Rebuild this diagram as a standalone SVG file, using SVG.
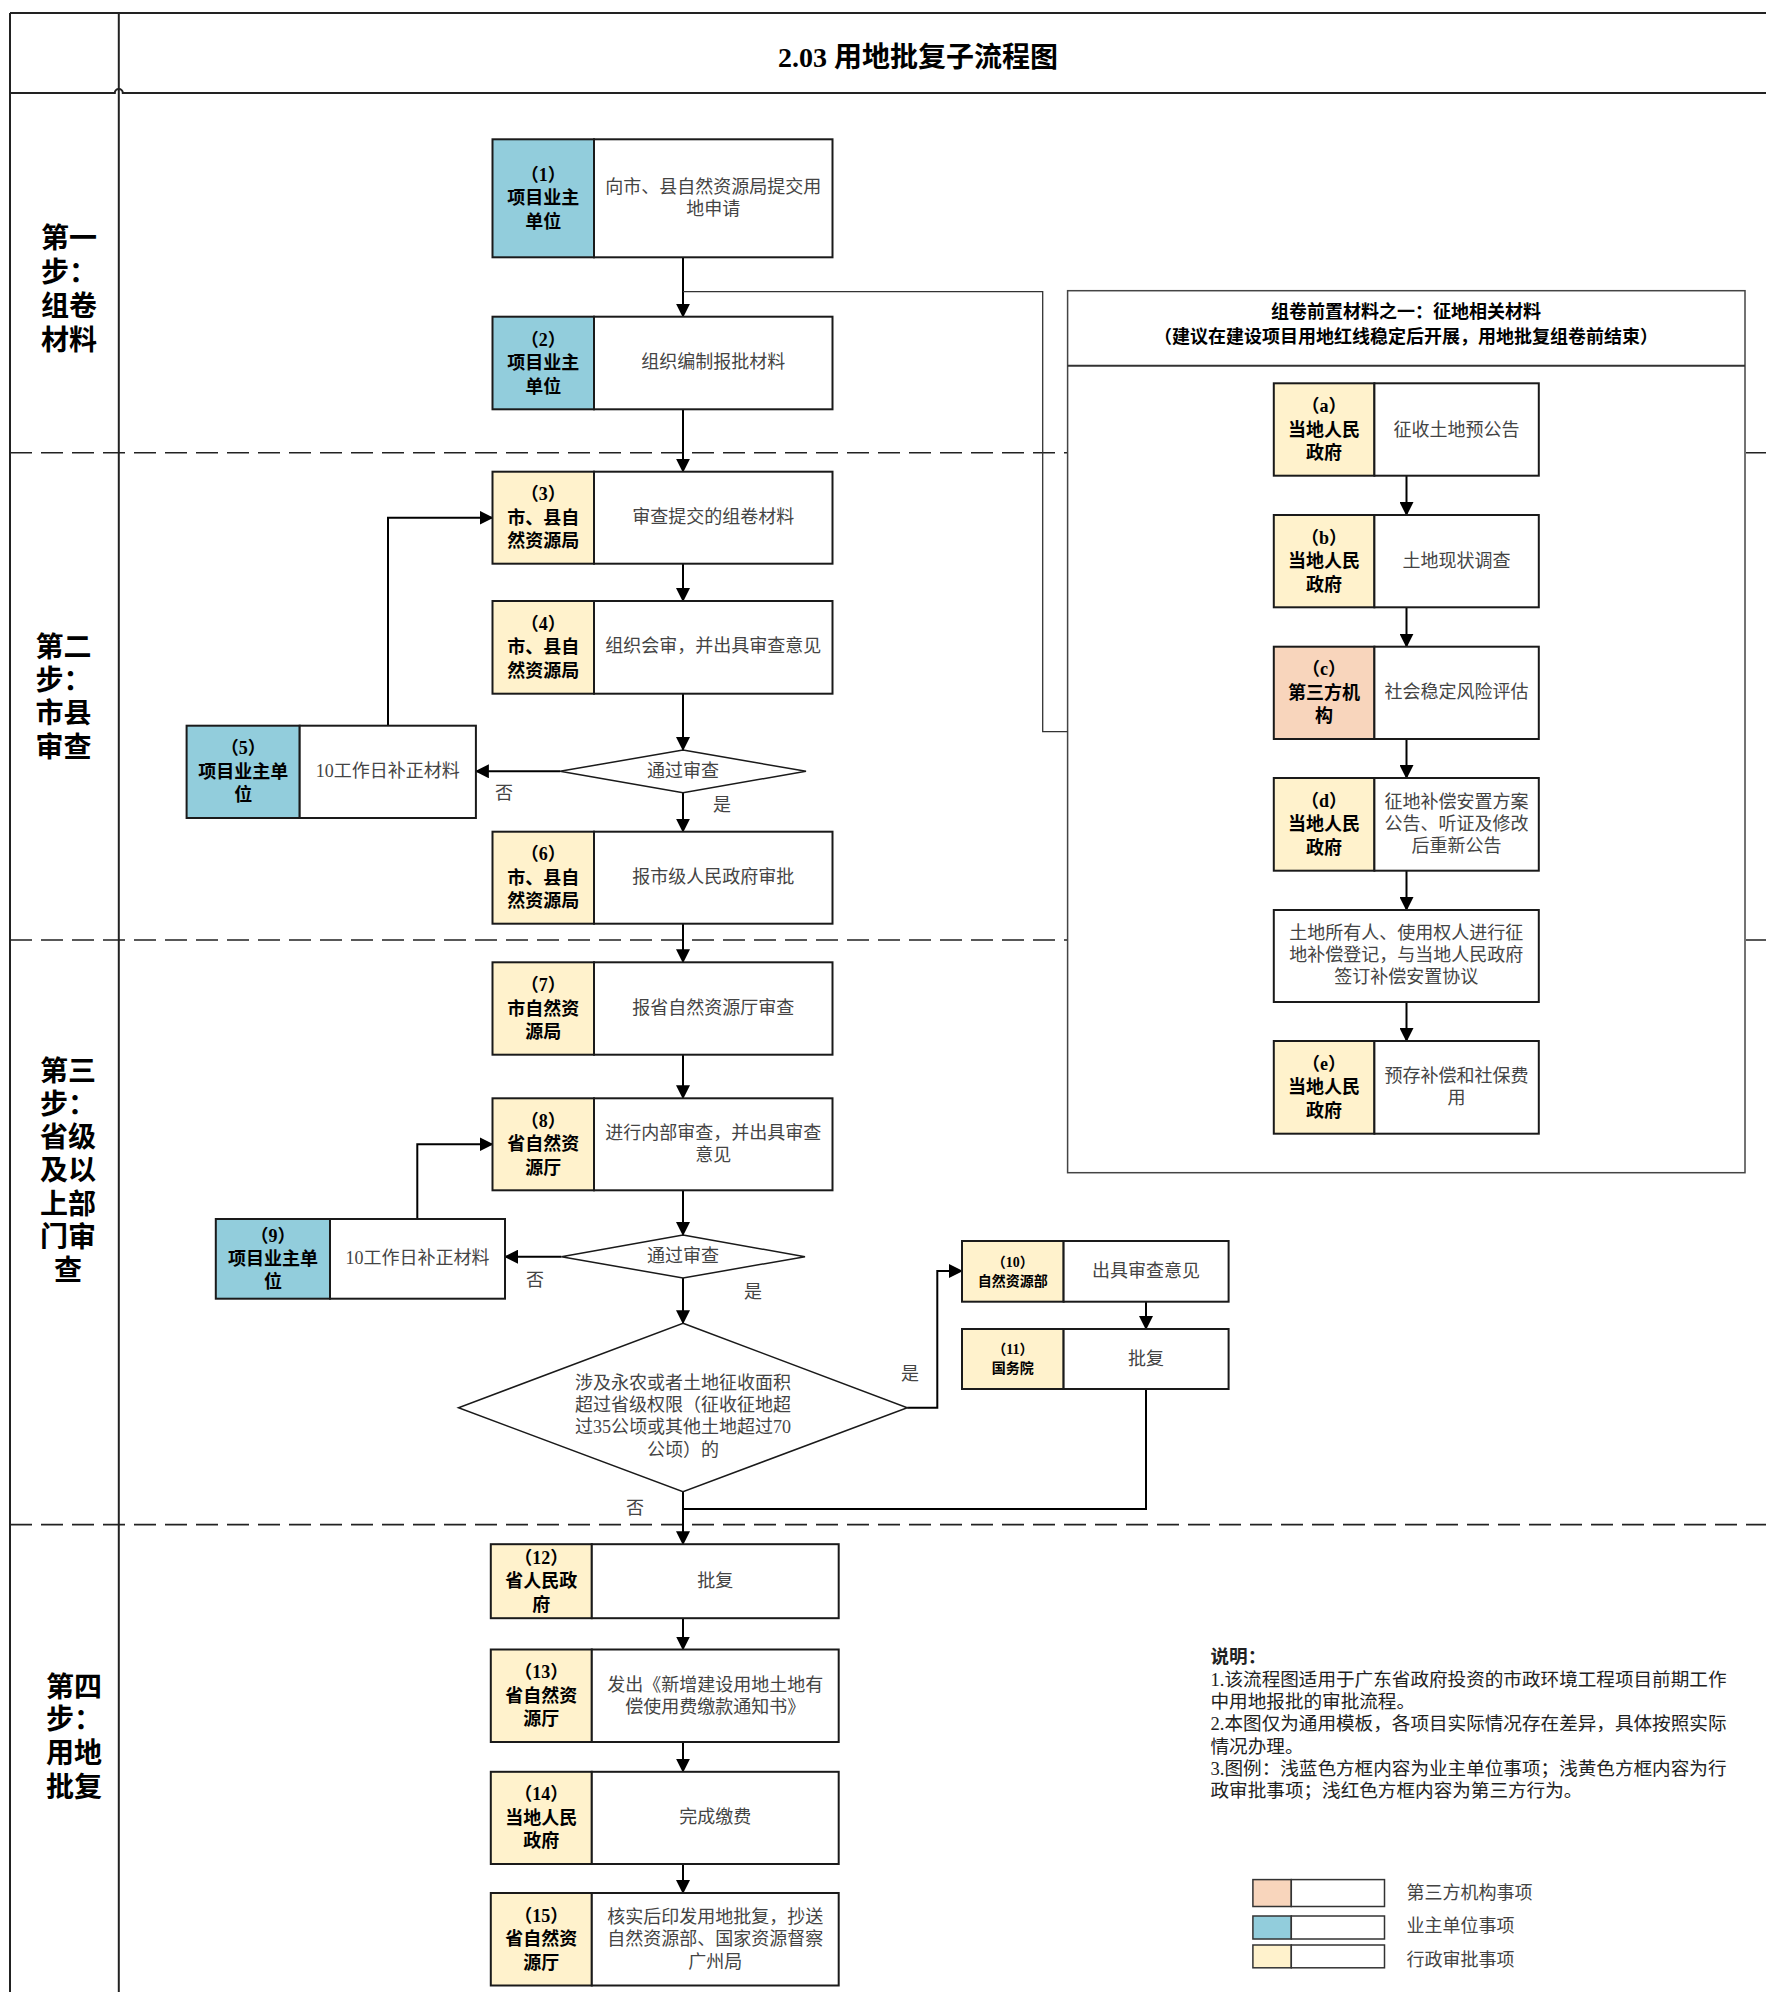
<svg xmlns="http://www.w3.org/2000/svg" width="1766" height="1992" viewBox="0 0 1766 1992">
<style>
text{font-family:"Liberation Serif","Noto Sans CJK SC",sans-serif;dominant-baseline:central;text-anchor:middle}
.frame{stroke:#222;stroke-width:2;fill:none}
.dash{stroke:#222;stroke-width:1.6;fill:none;stroke-dasharray:22 9}
.cell{stroke:#1a1a1a;stroke-width:2}
.blue{fill:#92CDDC}.yel{fill:#FFF2CC}.org{fill:#F8D5BC}.wh{fill:#fff}
.lab{font-size:18px;font-weight:bold;fill:#000}
.labs{font-size:14px;font-weight:bold;fill:#000}
.txt{font-size:18px;fill:#444}
.yn{font-size:18px;fill:#444}
.lane{font-size:28px;font-weight:600;fill:#000}
.conn{stroke:#000;stroke-width:2;fill:none}
.thin{stroke:#333;stroke-width:1.3;fill:none}
.arr{stroke:#000;stroke-width:2;fill:none;marker-end:url(#ah)}
.dia{fill:#fff;stroke:#1a1a1a;stroke-width:1.5}
.note{font-size:18.6px;fill:#222;text-anchor:start}
</style>
<defs>
<marker id="ah" markerUnits="userSpaceOnUse" markerWidth="14" markerHeight="14" refX="13" refY="7" orient="auto">
<path d="M0,0 L14,7 L0,14 z" fill="#000"/>
</marker>
</defs>
<rect width="1766" height="1992" fill="#fff"/>

<g id="frame">
<line class="frame" x1="10" y1="13" x2="1766" y2="13"/>
<line class="frame" x1="10" y1="13" x2="10" y2="1992"/>
<line class="frame" x1="118.8" y1="13" x2="118.8" y2="1992"/>
<path class="frame" d="M10,93 H114.8 A4,4 0 0 1 122.8,93 H1766"/>
<line class="dash" x1="10" y1="452.7" x2="1766" y2="452.7"/>
<line class="dash" x1="10" y1="940" x2="1766" y2="940"/>
<line class="dash" x1="10" y1="1524.6" x2="1766" y2="1524.6"/>
<text x="918" y="57" style="font-size:28px;font-weight:bold">2.03 用地批复子流程图</text>
</g>

<g id="lanes">
<g id="lane1">
<text class="lane" x="69" y="238">第一</text><text class="lane" x="69" y="272">步：</text><text class="lane" x="69" y="306">组卷</text><text class="lane" x="69" y="340">材料</text>
</g>
<g id="lane2">
<text class="lane" x="63.5" y="647">第二</text><text class="lane" x="63.5" y="680">步：</text><text class="lane" x="63.5" y="713">市县</text><text class="lane" x="63.5" y="747">审查</text>
</g>
<g id="lane3">
<text class="lane" x="68" y="1071">第三</text><text class="lane" x="68" y="1104">步：</text><text class="lane" x="68" y="1137">省级</text><text class="lane" x="68" y="1170">及以</text><text class="lane" x="68" y="1204">上部</text><text class="lane" x="68" y="1237">门审</text><text class="lane" x="68" y="1270">查</text>
</g>
<g id="lane4">
<text class="lane" x="74" y="1687">第四</text><text class="lane" x="74" y="1719">步：</text><text class="lane" x="74" y="1753">用地</text><text class="lane" x="74" y="1787">批复</text>
</g>
</g>

<g id="panel">
<rect x="1067.6" y="290.7" width="677.4" height="882" fill="#fff" stroke="#444" stroke-width="1.5"/>
<line x1="1067.6" y1="365.7" x2="1745" y2="365.7" stroke="#333" stroke-width="2"/>
<text class="lab" x="1406" y="311.7">组卷前置材料之一：征地相关材料</text>
<text class="lab" x="1406" y="337.3">（建议在建设项目用地红线稳定后开展，用地批复组卷前结束）</text>
</g>

<g id="connectors">
<line class="arr" x1="683" y1="257.3" x2="683" y2="316.7"/>
<polyline class="thin" points="683,291.7 1042.7,291.7 1042.7,731.7 1067.6,731.7"/>
<line class="arr" x1="683" y1="409.3" x2="683" y2="471.7"/>
<line class="arr" x1="683" y1="563.7" x2="683" y2="601"/>
<line class="arr" x1="683" y1="693.7" x2="683" y2="750"/>
<line class="arr" x1="560" y1="771.3" x2="475.9" y2="771.3"/>
<line class="arr" x1="683" y1="792.7" x2="683" y2="831.7"/>
<polyline class="arr" points="388,725.7 388,517.7 492.5,517.7"/>
<line class="arr" x1="683" y1="923.7" x2="683" y2="962.3"/>
<line class="arr" x1="683" y1="1054.7" x2="683" y2="1098.3"/>
<line class="arr" x1="683" y1="1190.3" x2="683" y2="1235"/>
<line class="arr" x1="561.4" y1="1256.7" x2="505" y2="1256.7"/>
<polyline class="arr" points="417.3,1219 417.3,1144.3 492.5,1144.3"/>
<line class="arr" x1="683" y1="1278" x2="683" y2="1323.3"/>
<polyline class="arr" points="907.3,1407.7 937.3,1407.7 937.3,1271 962,1271"/>
<line class="arr" x1="1146" y1="1301.7" x2="1146" y2="1329"/>
<polyline class="conn" points="1146,1389 1146,1509 683,1509"/>
<line class="arr" x1="683" y1="1491.7" x2="683" y2="1544.2"/>
<line class="arr" x1="683" y1="1618.2" x2="683" y2="1649.5"/>
<line class="arr" x1="683" y1="1742" x2="683" y2="1771.8"/>
<line class="arr" x1="683" y1="1864" x2="683" y2="1893"/>
<line class="arr" x1="1406.5" y1="475.7" x2="1406.5" y2="515"/>
<line class="arr" x1="1406.5" y1="607.3" x2="1406.5" y2="646.7"/>
<line class="arr" x1="1406.5" y1="739" x2="1406.5" y2="778"/>
<line class="arr" x1="1406.5" y1="870.7" x2="1406.5" y2="910"/>
<line class="arr" x1="1406.5" y1="1002" x2="1406.5" y2="1041"/>
<text class="yn" x="504" y="793">否</text>
<text class="yn" x="722" y="805">是</text>
<text class="yn" x="535" y="1280">否</text>
<text class="yn" x="753" y="1292">是</text>
<text class="yn" x="910" y="1374">是</text>
<text class="yn" x="635" y="1508">否</text>
</g>

<g id="n1">
<rect class="cell blue" x="492.5" y="139.3" width="101.5" height="118"/>
<rect class="cell wh" x="594" y="139.3" width="238.5" height="118"/>
<text class="lab" x="543.2" y="174.8">（1）</text><text class="lab" x="543.2" y="198.3">项目业主</text><text class="lab" x="543.2" y="221.8">单位</text>
<text class="txt" x="713.2" y="186.8">向市、县自然资源局提交用</text><text class="txt" x="713.2" y="209.4">地申请</text>
</g>
<g id="n2">
<rect class="cell blue" x="492.5" y="316.7" width="101.5" height="92.6"/>
<rect class="cell wh" x="594" y="316.7" width="238.5" height="92.6"/>
<text class="lab" x="543.2" y="339.5">（2）</text><text class="lab" x="543.2" y="363">项目业主</text><text class="lab" x="543.2" y="386.5">单位</text>
<text class="txt" x="713.2" y="362">组织编制报批材料</text>
</g>
<g id="n3">
<rect class="cell yel" x="492.5" y="471.7" width="101.5" height="92"/>
<rect class="cell wh" x="594" y="471.7" width="238.5" height="92"/>
<text class="lab" x="543.2" y="494.2">（3）</text><text class="lab" x="543.2" y="517.7">市、县自</text><text class="lab" x="543.2" y="541.2">然资源局</text>
<text class="txt" x="713.2" y="516.5">审查提交的组卷材料</text>
</g>
<g id="n4">
<rect class="cell yel" x="492.5" y="601" width="101.5" height="92.7"/>
<rect class="cell wh" x="594" y="601" width="238.5" height="92.7"/>
<text class="lab" x="543.2" y="623.8">（4）</text><text class="lab" x="543.2" y="647.3">市、县自</text><text class="lab" x="543.2" y="670.8">然资源局</text>
<text class="txt" x="713.2" y="646.3">组织会审，并出具审查意见</text>
</g>
<g id="d1">
<polygon class="dia" points="683,750 806,771.3 683,792.7 560,771.3"/>
<text class="txt" x="683" y="770.5">通过审查</text>
</g>
<g id="n5">
<rect class="cell blue" x="186.6" y="725.7" width="113.1" height="92.3"/>
<rect class="cell wh" x="299.7" y="725.7" width="176.2" height="92.3"/>
<text class="lab" x="243.2" y="748">（5）</text><text class="lab" x="243.2" y="771.7">项目业主单</text><text class="lab" x="243.2" y="795.2">位</text>
<text class="txt" x="387.8" y="771">10工作日补正材料</text>
</g>
<g id="n6">
<rect class="cell yel" x="492.5" y="831.7" width="101.5" height="92"/>
<rect class="cell wh" x="594" y="831.7" width="238.5" height="92"/>
<text class="lab" x="543.2" y="854.2">（6）</text><text class="lab" x="543.2" y="877.7">市、县自</text><text class="lab" x="543.2" y="901.2">然资源局</text>
<text class="txt" x="713.2" y="876.5">报市级人民政府审批</text>
</g>
<g id="n7">
<rect class="cell yel" x="492.5" y="962.3" width="101.5" height="92.4"/>
<rect class="cell wh" x="594" y="962.3" width="238.5" height="92.4"/>
<text class="lab" x="543.2" y="985">（7）</text><text class="lab" x="543.2" y="1008.5">市自然资</text><text class="lab" x="543.2" y="1032">源局</text>
<text class="txt" x="713.2" y="1007.5">报省自然资源厅审查</text>
</g>
<g id="n8">
<rect class="cell yel" x="492.5" y="1098.3" width="101.5" height="92"/>
<rect class="cell wh" x="594" y="1098.3" width="238.5" height="92"/>
<text class="lab" x="543.2" y="1120.8">（8）</text><text class="lab" x="543.2" y="1144.3">省自然资</text><text class="lab" x="543.2" y="1167.8">源厅</text>
<text class="txt" x="713.2" y="1132.5">进行内部审查，并出具审查</text><text class="txt" x="713.2" y="1154.5">意见</text>
</g>
<g id="d2">
<polygon class="dia" points="683,1235 805,1256.7 683,1278 561.4,1256.7"/>
<text class="txt" x="683" y="1256">通过审查</text>
</g>
<g id="n9">
<rect class="cell blue" x="215.8" y="1219" width="114.2" height="79.7"/>
<rect class="cell wh" x="330" y="1219" width="175" height="79.7"/>
<text class="lab" x="272.9" y="1235.5">（9）</text><text class="lab" x="272.9" y="1258.8">项目业主单</text><text class="lab" x="272.9" y="1282">位</text>
<text class="txt" x="417.5" y="1258">10工作日补正材料</text>
</g>
<g id="d3">
<polygon class="dia" points="683,1323.3 907.3,1407.7 683,1491.7 458.5,1407.7"/>
<text class="txt" x="683" y="1382.5">涉及永农或者土地征收面积</text>
<text class="txt" x="683" y="1404.8">超过省级权限（征收征地超</text>
<text class="txt" x="683" y="1427.3">过35公顷或其他土地超过70</text>
<text class="txt" x="683" y="1449.8">公顷）的</text>
</g>
<g id="n10">
<rect class="cell yel" x="962" y="1241" width="101.6" height="60.7"/>
<rect class="cell wh" x="1063.6" y="1241" width="165" height="60.7"/>
<text class="labs" x="1012.8" y="1262">（10）</text><text class="labs" x="1012.8" y="1281">自然资源部</text>
<text class="txt" x="1146.1" y="1270.7">出具审查意见</text>
</g>
<g id="n11">
<rect class="cell yel" x="962" y="1329" width="101.6" height="60"/>
<rect class="cell wh" x="1063.6" y="1329" width="165" height="60"/>
<text class="labs" x="1012.8" y="1349.5">（11）</text><text class="labs" x="1012.8" y="1368.5">国务院</text>
<text class="txt" x="1146.1" y="1359">批复</text>
</g>
<g id="n12">
<rect class="cell yel" x="490.8" y="1544.2" width="101" height="74"/>
<rect class="cell wh" x="591.8" y="1544.2" width="246.9" height="74"/>
<text class="lab" x="541.3" y="1557.7">（12）</text><text class="lab" x="541.3" y="1581.2">省人民政</text><text class="lab" x="541.3" y="1604.7">府</text>
<text class="txt" x="715.2" y="1580.5">批复</text>
</g>
<g id="n13">
<rect class="cell yel" x="490.8" y="1649.5" width="101" height="92.5"/>
<rect class="cell wh" x="591.8" y="1649.5" width="246.9" height="92.5"/>
<text class="lab" x="541.3" y="1672.2">（13）</text><text class="lab" x="541.3" y="1695.7">省自然资</text><text class="lab" x="541.3" y="1719.2">源厅</text>
<text class="txt" x="715.2" y="1685">发出《新增建设用地土地有</text><text class="txt" x="715.2" y="1707">偿使用费缴款通知书》</text>
</g>
<g id="n14">
<rect class="cell yel" x="490.8" y="1771.8" width="101" height="92.2"/>
<rect class="cell wh" x="591.8" y="1771.8" width="246.9" height="92.2"/>
<text class="lab" x="541.3" y="1794.4">（14）</text><text class="lab" x="541.3" y="1817.9">当地人民</text><text class="lab" x="541.3" y="1841.4">政府</text>
<text class="txt" x="715.2" y="1817">完成缴费</text>
</g>
<g id="n15">
<rect class="cell yel" x="490.8" y="1893" width="101" height="92.5"/>
<rect class="cell wh" x="591.8" y="1893" width="246.9" height="92.5"/>
<text class="lab" x="541.3" y="1915.7">（15）</text><text class="lab" x="541.3" y="1939.2">省自然资</text><text class="lab" x="541.3" y="1962.7">源厅</text>
<text class="txt" x="715.2" y="1917">核实后印发用地批复，抄送</text><text class="txt" x="715.2" y="1939.3">自然资源部、国家资源督察</text><text class="txt" x="715.2" y="1961.6">广州局</text>
</g>

<g id="na">
<rect class="cell yel" x="1273.8" y="383.3" width="100.6" height="92.4"/>
<rect class="cell wh" x="1374.4" y="383.3" width="164.4" height="92.4"/>
<text class="lab" x="1324.1" y="406">（a）</text><text class="lab" x="1324.1" y="429.5">当地人民</text><text class="lab" x="1324.1" y="453">政府</text>
<text class="txt" x="1456.6" y="429.5">征收土地预公告</text>
</g>
<g id="nb">
<rect class="cell yel" x="1273.8" y="515" width="100.6" height="92.3"/>
<rect class="cell wh" x="1374.4" y="515" width="164.4" height="92.3"/>
<text class="lab" x="1324.1" y="537.7">（b）</text><text class="lab" x="1324.1" y="561.2">当地人民</text><text class="lab" x="1324.1" y="584.7">政府</text>
<text class="txt" x="1456.6" y="560.5">土地现状调查</text>
</g>
<g id="nc">
<rect class="cell org" x="1273.8" y="646.7" width="100.6" height="92.3"/>
<rect class="cell wh" x="1374.4" y="646.7" width="164.4" height="92.3"/>
<text class="lab" x="1324.1" y="669.4">（c）</text><text class="lab" x="1324.1" y="692.9">第三方机</text><text class="lab" x="1324.1" y="716.4">构</text>
<text class="txt" x="1456.6" y="692">社会稳定风险评估</text>
</g>
<g id="nd">
<rect class="cell yel" x="1273.8" y="778" width="100.6" height="92.7"/>
<rect class="cell wh" x="1374.4" y="778" width="164.4" height="92.7"/>
<text class="lab" x="1324.1" y="800.8">（d）</text><text class="lab" x="1324.1" y="824.3">当地人民</text><text class="lab" x="1324.1" y="847.8">政府</text>
<text class="txt" x="1456.6" y="802.3">征地补偿安置方案</text><text class="txt" x="1456.6" y="824.3">公告、听证及修改</text><text class="txt" x="1456.6" y="846.3">后重新公告</text>
</g>
<g id="nreg">
<rect class="cell wh" x="1273.8" y="910" width="265" height="92"/>
<text class="txt" x="1406.3" y="932.7">土地所有人、使用权人进行征</text><text class="txt" x="1406.3" y="955">地补偿登记，与当地人民政府</text><text class="txt" x="1406.3" y="977.3">签订补偿安置协议</text>
</g>
<g id="ne">
<rect class="cell yel" x="1273.8" y="1041" width="100.6" height="92.7"/>
<rect class="cell wh" x="1374.4" y="1041" width="164.4" height="92.7"/>
<text class="lab" x="1324.1" y="1063.8">（e）</text><text class="lab" x="1324.1" y="1087.3">当地人民</text><text class="lab" x="1324.1" y="1110.8">政府</text>
<text class="txt" x="1456.6" y="1075.7">预存补偿和社保费</text><text class="txt" x="1456.6" y="1097.7">用</text>
</g>

<g id="notes">
<text class="note" x="1210.5" y="1656.3" style="font-weight:bold">说明：</text>
<text class="note" x="1210.5" y="1679.4">1.该流程图适用于广东省政府投资的市政环境工程项目前期工作</text>
<text class="note" x="1210.5" y="1701.5">中用地报批的审批流程。</text>
<text class="note" x="1210.5" y="1723.8">2.本图仅为通用模板，各项目实际情况存在差异，具体按照实际</text>
<text class="note" x="1210.5" y="1746">情况办理。</text>
<text class="note" x="1210.5" y="1768.4">3.图例：浅蓝色方框内容为业主单位事项；浅黄色方框内容为行</text>
<text class="note" x="1210.5" y="1790.5">政审批事项；浅红色方框内容为第三方行为。</text>
</g>

<g id="legend">
<rect class="org" x="1252.9" y="1879.6" width="38.4" height="26.9" stroke="#333" stroke-width="1.5"/>
<rect class="wh" x="1291.3" y="1879.6" width="93.2" height="26.9" stroke="#333" stroke-width="1.5"/>
<rect class="blue" x="1252.9" y="1916" width="38.4" height="23" stroke="#333" stroke-width="1.5"/>
<rect class="wh" x="1291.3" y="1916" width="93.2" height="23" stroke="#333" stroke-width="1.5"/>
<rect class="yel" x="1252.9" y="1945" width="38.4" height="22.8" stroke="#333" stroke-width="1.5"/>
<rect class="wh" x="1291.3" y="1945" width="93.2" height="22.8" stroke="#333" stroke-width="1.5"/>
<text class="txt" x="1406.6" y="1892.5" style="text-anchor:start">第三方机构事项</text>
<text class="txt" x="1406.6" y="1926.4" style="text-anchor:start">业主单位事项</text>
<text class="txt" x="1406.6" y="1960" style="text-anchor:start">行政审批事项</text>
</g>
</svg>
